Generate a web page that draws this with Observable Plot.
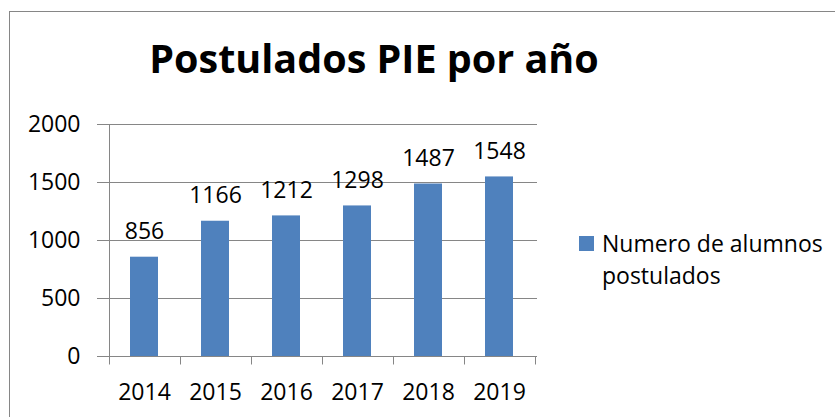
<!DOCTYPE html>
<html><head><meta charset="utf-8">
<script src="https://cdn.jsdelivr.net/npm/d3@7"></script>
<script src="https://cdn.jsdelivr.net/npm/@observablehq/plot@0.6"></script>
<style>
body{margin:0;background:#fff;}
#wrap{position:relative;width:835px;height:417px;overflow:hidden;}
</style>
</head><body><div id="wrap"></div>
<script>
const years = ["2014","2015","2016","2017","2018","2019"];
const values = [856,1166,1212,1298,1487,1548];
const yTicks = [0,500,1000,1500,2000];
const titleText = "Postulados PIE por año";
const legendLines = ["Numero de alumnos","postulados"];
const barColor = "#4F81BD";
const gridColor = "#868686";
const FONT = "'Open Sans', sans-serif";

const data = years.map((y,i)=>({year:y, value:values[i]}));

const boundaryTicks = (index, scales) => {
  const g = d3.create("svg:g").attr("stroke", gridColor).attr("stroke-width", 1);
  const step = scales.x(years[1]) - scales.x(years[0]);
  const b0 = scales.x(years[0]) - 0.3*step;
  const y0 = Math.round(scales.y(0)) + 0.5, yTop = Math.round(scales.y(2000)) + 0.5;
  g.append("line").attr("x1", Math.round(b0)+0.5).attr("x2", Math.round(b0)+0.5).attr("y1", yTop).attr("y2", y0+8);
  for (let k=1;k<=years.length;k++){
    const x = Math.round(b0 + k*step) + 0.5;
    g.append("line").attr("x1", x).attr("x2", x).attr("y1", y0).attr("y2", y0+8);
  }
  return g.node();
};

const chart = Plot.plot({
  width: 835, height: 417,
  marginLeft: 106, marginRight: 298, marginTop: 124, marginBottom: 61,
  style: {fontFamily: FONT, fontSize: "23px", color: "#000", background: "transparent"},
  x: {domain: years, paddingInner: 0.6, paddingOuter: 0.3, align: 0.5},
  y: {domain: [0, 2000]},
  marks: [
    Plot.ruleY(yTicks, {y: d => d, stroke: gridColor, strokeWidth: 1}),
    Plot.barY(data, {x: "year", y: "value", fill: barColor}),
    boundaryTicks,
    Plot.axisY({ticks: yTicks, tickSize: 9, tickPadding: 17, stroke: gridColor, fill: "#000", label: null, fontSize: 23, tickFormat: d => String(d)}),
    Plot.axisX({tickSize: 0, tickPadding: 27, label: null, fill: "#000", fontSize: 23}),
    Plot.text(data, {x: "year", y: "value", text: d => String(d.value), lineAnchor: "bottom", dy: -18, fill: "#000", fontSize: 23})
  ]
});

const svg = d3.select(chart);
svg.append("rect").attr("x", 9.5).attr("y", 11.5).attr("width", 900).attr("height", 500)
  .attr("fill", "none").attr("stroke", gridColor).attr("stroke-width", 1);
svg.append("text").attr("x", 374).attr("y", 73).attr("text-anchor", "middle")
  .attr("font-family", FONT).attr("font-weight", 700).attr("font-size", 39.5).attr("fill", "#000")
  .text(titleText);
const leg = svg.append("g").attr("text-anchor", "start");
leg.append("rect").attr("x", 579).attr("y", 236).attr("width", 15).attr("height", 15).attr("fill", barColor);
legendLines.forEach((t,i) => {
  leg.append("text").attr("x", 602).attr("y", 252 + i*32).attr("text-anchor", "start").attr("font-family", FONT)
    .attr("font-size", 23).attr("fill", "#000").text(t);
});
document.getElementById("wrap").appendChild(chart);
</script>
</body></html>
